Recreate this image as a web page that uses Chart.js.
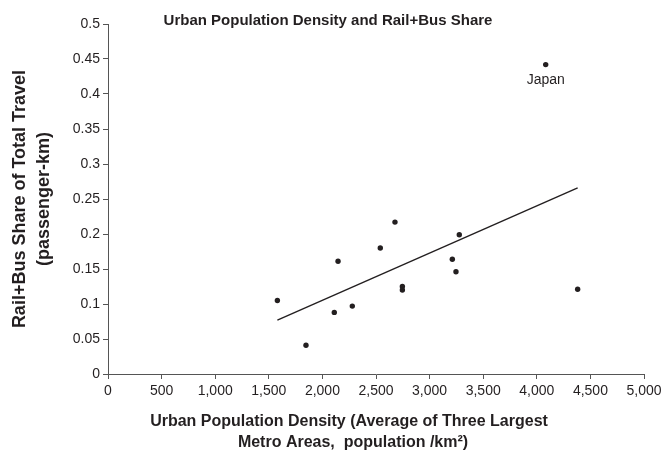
<!DOCTYPE html>
<html>
<head>
<meta charset="utf-8">
<script src="https://cdn.jsdelivr.net/npm/chart.js@4/dist/chart.umd.min.js"></script>
<style>
  html, body { margin: 0; padding: 0; background: #fff; }
  #wrap { width: 667px; height: 458px; }
</style>
</head>
<body>
<div id="wrap"><canvas id="c" width="667" height="458"></canvas></div>
<script>
// Urban population density (avg. of three largest metro areas, people per km²)
const densities = [1580, 1847, 2111, 2146, 2279, 2540, 2677, 2746, 2746, 3212, 3246, 3277, 4083, 4381];
// Rail + bus share of total passenger-km
const shares = [0.105, 0.041, 0.088, 0.161, 0.097, 0.180, 0.217, 0.125, 0.120, 0.164, 0.146, 0.199, 0.442, 0.121];
// Point annotations
const pointNames = ['', '', '', '', '', '', '', '', '', '', '', '', 'Japan', ''];
// Linear trend line end points
const trendX = [1580, 4381];
const trendY = [0.077, 0.266];
// Axis ranges and tick steps
const xRange = [0, 5000], xStep = 500;
const yRange = [0, 0.5], yStep = 0.05;
// Titles
const chartTitle = 'Urban Population Density and Rail+Bus Share';
const yTitle = ['Rail+Bus Share of Total Travel', '(passenger-km)'];
const xTitle = ['Urban Population Density (Average of Three Largest', 'Metro Areas,  population /km²)'];

const FONT = '"Liberation Sans", Arial, sans-serif';
const INK = '#231f20';

const points = densities.map((x, i) => ({ x, y: shares[i], name: pointNames[i] }));
const trend = trendX.map((x, i) => ({ x, y: trendY[i] }));

// Draws the chart title, the axis titles and the point labels
const overlay = {
  id: 'overlay',
  afterDraw(chart) {
    const ctx = chart.ctx;
    const xs = chart.scales.x, ys = chart.scales.y;
    const area = chart.chartArea;
    ctx.save();
    ctx.fillStyle = INK;
    ctx.textAlign = 'center';
    ctx.textBaseline = 'middle';

    ctx.font = 'bold 15px ' + FONT;
    ctx.fillText(chartTitle, 328, 21);

    ctx.font = 'bold 16px ' + FONT;
    ctx.fillText(xTitle[0], 349, 422);
    ctx.fillText(xTitle[1], 353, 443);

    ctx.save();
    ctx.translate(20, (area.top + area.bottom) / 2);
    ctx.rotate(-Math.PI / 2);
    ctx.font = 'bold 18px ' + FONT;
    ctx.fillText(yTitle[0], 0, 0);
    ctx.fillText(yTitle[1], 0, 24);
    ctx.restore();

    ctx.font = '14px ' + FONT;
    ctx.textBaseline = 'top';
    points.forEach(p => {
      if (!p.name) return;
      ctx.fillText(p.name, xs.getPixelForValue(p.x), ys.getPixelForValue(p.y) + 9);
    });
    ctx.restore();
  }
};

new Chart(document.getElementById('c'), {
  type: 'scatter',
  data: {
    datasets: [
      {
        label: 'Countries',
        data: points,
        pointRadius: 2.7,
        pointHoverRadius: 2.7,
        pointBackgroundColor: INK,
        pointBorderColor: INK,
        pointBorderWidth: 0,
        showLine: false
      },
      {
        label: 'Trend',
        data: trend,
        showLine: true,
        borderColor: INK,
        borderWidth: 1.4,
        pointRadius: 0,
        fill: false
      }
    ]
  },
  options: {
    responsive: false,
    animation: false,
    devicePixelRatio: 1,
    layout: { padding: { top: 24, right: 23, bottom: 0, left: 0 } },
    plugins: {
      legend: { display: false },
      tooltip: { enabled: false },
      title: { display: false }
    },
    scales: {
      x: {
        type: 'linear',
        min: xRange[0], max: xRange[1],
        afterFit(s) { s.height = 84; },
        border: { display: true, color: '#555', width: 1 },
        grid: { display: true, drawOnChartArea: false, drawTicks: true, tickLength: 5, color: '#555' },
        ticks: {
          stepSize: xStep,
          color: INK,
          font: { family: FONT, size: 14 },
          padding: 4,
          maxRotation: 0,
          callback: v => v.toLocaleString('en-US')
        }
      },
      y: {
        type: 'linear',
        min: yRange[0], max: yRange[1],
        afterFit(s) { s.width = 108; },
        border: { display: true, color: '#555', width: 1 },
        grid: { display: true, drawOnChartArea: false, drawTicks: true, tickLength: 5, color: '#555' },
        ticks: {
          stepSize: yStep,
          color: INK,
          font: { family: FONT, size: 14 },
          padding: 3,
          callback: v => String(Number(v.toFixed(2)))
        }
      }
    }
  },
  plugins: [overlay]
});
</script>
</body>
</html>
